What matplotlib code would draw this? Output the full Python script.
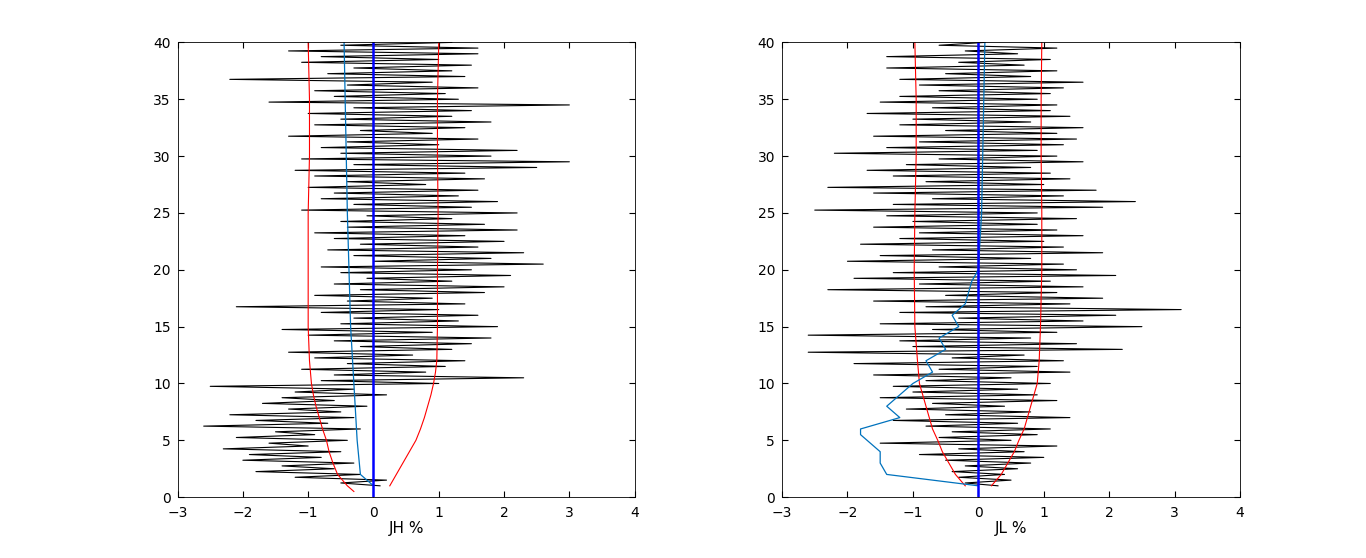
import numpy as np
import matplotlib
matplotlib.use("Agg")
import matplotlib.pyplot as plt

jh_x = [0.1,-0.5,0.2,-1.2,-0.2,-1.8,-0.6,-1.4,-0.3,-2.0,
 -0.8,-1.9,-0.5,-2.3,-1.0,-1.6,-0.4,-2.1,-0.9,-1.5,
 -0.2,-2.6,-0.7,-1.8,-0.3,-2.2,-0.5,-1.3,-0.1,-1.7,
 -0.6,-1.4,0.2,-1.2,-0.3,-2.5,1.0,-0.8,2.3,-0.6,
 0.8,-1.1,1.1,-0.4,1.4,-0.9,0.6,-1.3,1.2,-0.2,
 1.5,-0.6,1.8,-1.0,0.9,-1.4,1.9,-0.5,1.3,-0.3,
 1.6,-0.8,1.0,-2.1,1.4,-0.4,0.9,-0.9,1.7,-0.2,
 2.0,-0.6,1.2,-0.1,2.1,-0.5,1.5,-0.8,2.6,0.0,
 1.8,-0.3,2.3,-0.7,1.6,-0.2,2.0,-0.6,1.4,-0.9,
 2.2,-0.4,1.7,-0.5,1.2,-0.1,2.2,-1.1,1.5,-0.3,
 1.9,-0.8,1.3,-0.6,1.6,-1.0,0.8,-0.4,1.7,-0.9,
 1.4,-1.2,2.5,-0.3,3.0,-1.1,1.8,-0.5,2.2,-0.8,
 1.0,-0.4,1.6,-1.3,0.9,-0.2,1.4,-0.9,1.8,-0.5,
 1.2,-1.0,1.5,-0.3,3.0,-1.6,1.3,-0.6,1.1,-0.9,
 1.6,-0.4,0.9,-2.2,1.4,-0.7,1.2,-0.3,1.5,-1.1,
 1.0,-0.8,1.6,-1.3,1.6,-0.5,1.2]
jl_x = [0.3,-0.2,0.5,-0.3,0.4,-0.4,0.6,-0.2,0.8,-0.5,
 1.0,-0.9,0.7,-0.3,1.2,-1.5,0.5,-0.6,0.9,-0.4,
 1.1,-0.8,0.6,-1.3,1.4,-0.5,0.8,-1.1,0.4,-0.7,
 1.2,-1.5,0.9,-1.0,0.6,-1.3,1.1,-0.8,0.5,-1.6,
 1.4,-0.6,0.9,-1.9,1.3,-0.4,0.7,-2.6,2.2,-1.0,
 1.5,-1.2,0.8,-2.6,1.2,-0.7,2.5,-1.5,1.6,-0.3,
 2.1,-1.2,3.1,-0.8,1.4,-1.6,1.9,-0.5,1.2,-2.3,
 1.6,-0.9,1.1,-1.9,2.1,-1.3,1.5,-0.6,1.3,-2.0,
 0.8,-1.5,1.9,-0.7,1.3,-1.8,1.0,-1.2,1.6,-0.9,
 1.2,-1.6,0.9,-1.0,1.5,-1.4,0.9,-2.5,1.9,-1.3,
 2.4,-0.7,1.3,-1.6,1.8,-2.3,1.0,-0.8,1.4,-1.3,
 1.1,-1.7,0.8,-1.1,1.6,-0.6,1.2,-2.2,0.9,-1.4,
 1.3,-0.9,1.5,-1.6,1.2,-0.5,1.6,-1.2,0.8,-1.0,
 1.4,-1.7,1.1,-0.7,1.2,-1.5,0.9,-1.2,1.1,-0.6,
 1.3,-0.9,1.6,-1.2,0.8,-0.5,1.2,-1.4,0.7,-0.3,
 1.1,-1.4,0.6,-0.2,1.2,-0.6,0.1]

jh_red_l_y = [0.5,1,2,3,4,5,6,7,8,9,10,12,15,20,25,30,35,40]
jh_red_l_x = [-0.3,-0.4,-0.55,-0.62,-0.68,-0.72,-0.78,-0.83,-0.88,-0.92,-0.95,-0.98,-1,-1,-1,-0.98,-0.98,-1]
jh_red_r_y = [1,2,3,4,5,6,7,8,9,10,11,12,15,20,25,30,35,40]
jh_red_r_x = [0.25,0.35,0.45,0.55,0.65,0.72,0.78,0.83,0.88,0.92,0.95,0.97,0.98,0.98,0.99,0.98,0.98,1.0]
jh_mean_y = [1,2,5,10,15,25,40]
jh_mean_x = [0.0,-0.2,-0.25,-0.3,-0.35,-0.4,-0.45]

jl_red_y = [1,2,3,4,5,6,7,8,9,10,12,15,20,25,30,35,40]
jl_red_l_x = [-0.2,-0.35,-0.45,-0.55,-0.62,-0.7,-0.75,-0.8,-0.85,-0.9,-0.93,-0.97,-0.98,-0.97,-0.95,-0.95,-0.97]
jl_red_r_x = [0.2,0.35,0.45,0.55,0.62,0.7,0.75,0.8,0.85,0.9,0.93,0.95,0.97,0.97,0.96,0.96,0.97]
jl_mean_y = [1,2,3,4,5.5,6,7,8,9,10,11,12,13,14,15,16,17,19,20,25,40]
jl_mean_x = [0,-1.4,-1.5,-1.5,-1.8,-1.8,-1.2,-1.4,-1.2,-1.0,-0.7,-0.8,-0.5,-0.6,-0.3,-0.4,-0.2,-0.1,0,0.05,0.1]

fig = plt.figure(figsize=(13.66,5.58), dpi=100)
ax1 = fig.add_axes([0.130,0.109,0.3346,0.815])
ax2 = fig.add_axes([0.5725,0.109,0.3353,0.815])
cyan = (0,0.447,0.741)
for ax, bx, rl, rr, ry1, ry2, mx, my, lab in [
    (ax1, jh_x, jh_red_l_x, jh_red_r_x, jh_red_l_y, jh_red_r_y, jh_mean_x, jh_mean_y, "JH %"),
    (ax2, jl_x, jl_red_l_x, jl_red_r_x, jl_red_y, jl_red_y, jl_mean_x, jl_mean_y, "JL %")]:
    y = np.linspace(1, 40, len(bx))
    ax.plot(bx, y, color='black', lw=0.8)
    ax.plot(rl, ry1, color='red', lw=0.8)
    ax.plot(rr, ry2, color='red', lw=0.8)
    ax.plot(mx, my, color=cyan, lw=0.9)
    ax.plot([0,0],[0,40], color='blue', lw=1.8)
    ax.set_xlim(-3,4); ax.set_ylim(0,40)
    ax.set_xticks(range(-3,5)); ax.set_yticks(range(0,41,5))
    ax.tick_params(direction='in', labelsize=10, length=4, top=True, right=True, labeltop=False, labelright=False)
    ax.tick_params(axis='x', pad=6)
    ax.tick_params(axis='y', pad=5)
    ax.set_xlabel(lab, fontsize=11, labelpad=1)
    for s in ax.spines.values(): s.set_linewidth(0.6)
fig.savefig("out.png")
